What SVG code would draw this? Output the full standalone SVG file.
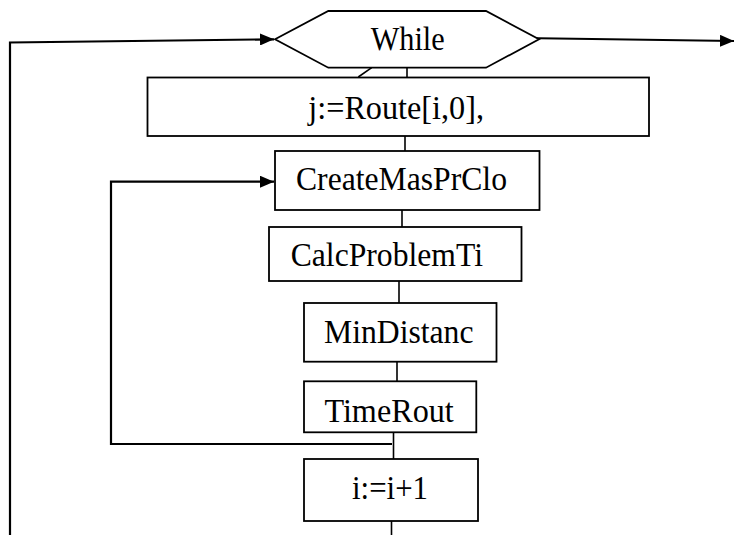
<svg xmlns="http://www.w3.org/2000/svg" width="735" height="535" viewBox="0 0 735 535">
  <style>
    .box { fill: #ffffff; stroke: #000000; stroke-width: 1.8; }
    .lbl { font-family: "Liberation Serif", "Times New Roman", serif; font-size: 34px; fill: #000000; }
    .wire { fill: none; stroke: #000000; stroke-width: 1.6; }
    .flow { fill: none; stroke: #000000; stroke-width: 2.2; }
  </style>
  <defs>
    <marker id="arrow" viewBox="0 0 14 12" refX="14" refY="6" markerWidth="14" markerHeight="12" markerUnits="userSpaceOnUse" orient="auto">
      <path d="M0,0 L14,6 L0,12 Z" fill="#000000"/>
    </marker>
  </defs>

  <rect width="735" height="535" fill="#ffffff"/>

  <!-- connectors -->
  <g id="connectors">
    <!-- outer loop return into While -->
    <path class="flow" d="M10,535 L10,42.5 L274,39.3" marker-end="url(#arrow)"/>
    <!-- exit from While -->
    <path class="flow" d="M521,38 L734,41" marker-end="url(#arrow)"/>
    <!-- While to j:=Route -->
    <line class="wire" x1="407" y1="67.7" x2="407" y2="78"/>
    <line class="wire" x1="371.7" y1="67.7" x2="358.3" y2="77"/>
    <!-- chain of steps -->
    <line class="wire" x1="405" y1="136" x2="405" y2="151"/>
    <line class="wire" x1="402" y1="210" x2="402" y2="227"/>
    <line class="wire" x1="399" y1="281" x2="399" y2="303"/>
    <line class="wire" x1="397" y1="362" x2="397" y2="381"/>
    <line class="wire" x1="393.5" y1="432" x2="393.5" y2="459"/>
    <line class="wire" x1="391.5" y1="521" x2="391.5" y2="535"/>
    <!-- inner loop back to CreateMasPrClo -->
    <path class="flow" d="M392,444 L111,444 L111,181.7 L274,181.7" marker-end="url(#arrow)"/>
  </g>

  <g id="while">
    <polygon class="box" points="275,39.3 328.3,11 486,11 539,39.3 486,67.7 328.3,67.7"/>
    <text class="lbl" x="370.7" y="50" font-size="29" textLength="74" lengthAdjust="spacingAndGlyphs">While</text>
  </g>

  <g id="route">
    <rect class="box" x="147.5" y="77.5" width="501.5" height="58.5"/>
    <text class="lbl" x="308.3" y="118.7" textLength="175.7" lengthAdjust="spacingAndGlyphs">j:=Route[i,0],</text>
  </g>

  <g id="create">
    <rect class="box" x="275" y="151" width="264.5" height="59"/>
    <text class="lbl" x="296" y="190" textLength="211" lengthAdjust="spacingAndGlyphs">CreateMasPrClo</text>
  </g>

  <g id="calc">
    <rect class="box" x="269" y="227" width="252.5" height="54"/>
    <text class="lbl" x="290.7" y="266" textLength="192.3" lengthAdjust="spacingAndGlyphs">CalcProblemTi</text>
  </g>

  <g id="mindist">
    <rect class="box" x="304" y="303" width="192.5" height="58.7"/>
    <text class="lbl" x="324" y="343" textLength="149.5" lengthAdjust="spacingAndGlyphs">MinDistanc</text>
  </g>

  <g id="timerout">
    <rect class="box" x="304" y="381.3" width="172.3" height="51"/>
    <text class="lbl" x="324.4" y="421.7" textLength="129.4" lengthAdjust="spacingAndGlyphs">TimeRout</text>
  </g>

  <g id="increment">
    <rect class="box" x="304" y="459" width="174" height="62"/>
    <text class="lbl" x="352" y="499" textLength="76" lengthAdjust="spacingAndGlyphs">i:=i+1</text>
  </g>
</svg>
